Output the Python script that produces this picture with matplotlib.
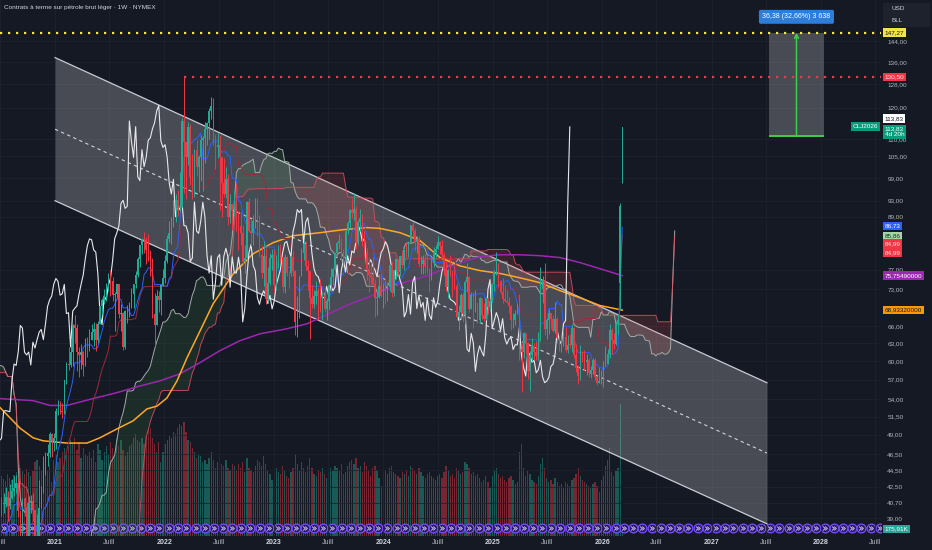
"""
Weekly WTI light crude futures (NYMEX) chart, TradingView-like dark layout:
candles, Ichimoku cloud, 100/200 SMA, descending channel, volume and a
price-range measurement box.
"""
import numpy as np
import pandas as pd
import matplotlib
matplotlib.use("Agg")
import matplotlib.pyplot as plt
import matplotlib.transforms as mtransforms
from matplotlib.patches import Rectangle
from matplotlib.ticker import FixedLocator, FuncFormatter, NullLocator

plt.rcParams["font.family"] = ["Liberation Sans", "DejaVu Sans"]

# ---------------------------------------------------------------------------
# weekly bars (Monday of the first week below), close / high / low per year
FIRST_WEEK = "2019-07-01"
C2019 = [57.51, 60.21, 55.63, 56.20, 55.66, 54.50, 54.87, 54.17, 55.10, 56.52, 54.85, 58.09, 55.91,
         52.81, 54.70, 53.78, 56.66, 56.20, 57.24, 57.72, 57.77, 55.17, 59.20, 60.07, 60.44, 61.72]
H2019 = [58.76, 60.94, 60.74, 57.05, 58.82, 54.98, 57.47, 56.30, 56.76, 57.05, 58.76, 63.38, 58.93,
         56.24, 54.96, 54.94, 56.90, 56.66, 57.88, 57.94, 58.73, 58.68, 59.85, 60.59, 61.31, 62.34]
L2019 = [55.83, 57.33, 55.22, 55.05, 53.59, 50.52, 53.75, 52.82, 53.50, 52.78, 54.56, 57.24, 55.38,
         50.99, 51.91, 52.53, 53.24, 53.53, 55.38, 55.97, 56.31, 55.00, 55.25, 58.65, 59.66, 60.07]

C2020 = [63.05, 59.04, 58.54, 54.19, 51.56, 50.32, 52.05, 53.38, 44.76, 41.28, 31.73, 22.43, 21.51,
         28.34, 22.76, 18.27, 16.94, 19.78, 24.74, 29.43, 33.25, 35.49, 39.55, 36.26, 39.75, 38.49,
         40.65, 40.55, 40.59, 41.29, 40.27, 41.22, 42.01, 42.34, 42.97, 39.77, 37.33, 41.11, 40.25,
         37.05, 40.60, 40.88, 39.85, 35.79, 37.14, 40.13, 42.15, 45.53, 46.26, 46.57, 49.10, 48.23]
H2020 = [64.09, 65.65, 59.27, 58.88, 54.31, 52.21, 52.40, 54.40, 54.15, 48.66, 42.00, 34.32, 25.24,
         29.13, 28.36, 23.34, 18.26, 20.48, 25.77, 30.16, 34.66, 35.95, 39.82, 40.44, 40.19, 40.73,
         41.63, 41.38, 41.73, 42.51, 42.02, 42.82, 43.43, 43.78, 43.83, 43.55, 39.59, 41.21, 41.36,
         40.77, 41.39, 41.53, 41.79, 39.82, 39.41, 43.28, 42.63, 46.26, 46.68, 47.74, 49.43, 49.30]
L2020 = [60.64, 58.84, 57.36, 54.06, 50.89, 49.31, 49.88, 51.68, 43.84, 40.84, 27.34, 20.06, 20.57,
         19.27, 22.04, 17.31, -40.32, 10.07, 18.72, 23.41, 29.45, 31.39, 34.80, 34.81, 35.50, 37.08,
         37.16, 39.23, 39.60, 40.26, 38.72, 39.97, 41.11, 41.45, 41.80, 39.16, 36.13, 36.58, 39.22,
         36.63, 37.33, 39.50, 38.71, 33.64, 34.92, 37.00, 40.20, 41.74, 43.92, 45.02, 46.17, 46.15]

C2021 = [48.52, 52.24, 52.36, 52.27, 52.20, 56.85, 59.47, 59.24, 61.50, 66.09, 65.61, 61.42, 60.97,
         61.45, 59.32, 63.13, 62.14, 63.58, 64.90, 65.37, 63.58, 66.32, 69.62, 70.91, 71.64, 74.05,
         75.16, 74.56, 71.81, 72.07, 73.95, 68.28, 68.44, 62.32, 68.74, 69.29, 69.72, 71.97, 73.98,
         75.88, 79.35, 82.28, 83.76, 83.57, 81.27, 80.79, 76.10, 68.15, 66.26, 71.67, 70.86, 73.79, 75.21]
H2021 = [49.28, 52.75, 53.93, 53.80, 53.39, 57.00, 59.84, 62.26, 63.81, 66.40, 67.98, 66.40, 62.27,
         62.85, 61.61, 63.78, 64.06, 65.47, 66.43, 66.69, 66.45, 66.96, 69.76, 71.17, 72.99, 74.25,
         76.40, 76.98, 75.52, 72.45, 74.11, 73.70, 70.15, 68.57, 69.03, 69.92, 70.52, 73.15, 74.06,
         76.67, 79.78, 82.48, 84.00, 85.41, 84.26, 84.97, 81.20, 79.44, 72.26, 72.87, 72.56, 74.00, 77.08]
L2021 = [46.90, 47.18, 51.77, 51.83, 51.37, 51.88, 56.37, 58.43, 59.02, 59.21, 63.03, 58.29, 57.32,
         58.71, 57.63, 59.14, 60.62, 61.56, 63.57, 62.55, 61.56, 63.02, 66.50, 68.23, 70.15, 70.60,
         72.72, 71.60, 70.76, 65.01, 71.21, 67.44, 65.15, 61.74, 62.04, 66.50, 67.58, 69.30, 69.38,
         73.18, 75.51, 77.62, 80.38, 80.51, 78.25, 78.80, 75.66, 67.40, 62.43, 68.80, 68.55, 68.00, 73.71]

C2022 = [78.90, 83.82, 85.14, 86.82, 92.31, 93.10, 91.07, 91.59, 115.68, 109.33, 104.70, 113.90, 99.27,
         98.26, 106.95, 102.07, 104.69, 109.77, 110.49, 113.23, 115.07, 118.87, 120.67, 109.56, 107.62,
         108.43, 104.79, 97.59, 94.70, 98.62, 89.01, 92.09, 90.77, 93.06, 86.87, 86.79, 85.11, 78.74,
         79.49, 92.64, 85.61, 85.05, 87.90, 92.61, 88.96, 80.08, 76.28, 79.98, 71.02, 74.29, 79.56, 80.26]
H2022 = [80.24, 84.72, 87.91, 88.84, 93.17, 94.66, 95.82, 100.54, 116.57, 130.50, 106.91, 115.40, 114.68,
         105.74, 107.24, 109.81, 105.44, 111.37, 110.94, 115.44, 115.40, 119.98, 123.68, 123.18, 111.70,
         112.08, 111.45, 104.48, 104.41, 101.88, 99.94, 94.73, 91.88, 95.75, 97.65, 90.40, 90.14, 86.90,
         82.35, 92.90, 93.64, 88.42, 89.48, 93.69, 93.74, 89.45, 82.40, 83.34, 81.60, 77.60, 80.50, 81.49]
L2022 = [74.27, 78.46, 83.05, 82.71, 86.55, 87.73, 89.17, 90.06, 91.51, 95.04, 93.53, 102.55, 97.05,
         93.41, 94.01, 99.43, 95.28, 98.20, 95.44, 103.12, 108.24, 110.16, 116.37, 108.26, 101.53,
         104.56, 90.56, 88.86, 93.92, 93.72, 87.01, 87.46, 85.73, 89.10, 85.54, 81.20, 82.31, 78.07,
         76.25, 79.00, 85.27, 82.09, 82.36, 86.35, 84.33, 79.76, 75.27, 73.60, 70.08, 70.30, 73.91, 76.88]

C2023 = [73.77, 79.86, 81.64, 79.68, 73.39, 79.72, 76.34, 76.32, 79.68, 76.68, 66.74, 69.26, 75.67,
         80.70, 82.52, 77.87, 76.78, 71.34, 70.04, 71.69, 72.67, 71.74, 70.17, 71.78, 69.16, 70.64,
         73.86, 75.42, 77.07, 80.58, 82.82, 83.19, 81.25, 79.83, 85.55, 87.51, 90.77, 90.03, 90.79,
         82.79, 87.69, 88.75, 85.54, 80.51, 77.17, 75.89, 75.54, 74.07, 71.23, 71.43, 73.56, 71.65]
H2023 = [81.50, 80.12, 82.38, 82.66, 79.65, 80.38, 80.03, 76.79, 80.00, 80.94, 76.99, 71.67, 75.72,
         81.81, 83.53, 83.26, 79.06, 76.57, 73.84, 72.82, 74.73, 73.20, 75.06, 72.50, 73.19, 71.21,
         74.01, 77.32, 77.34, 80.85, 83.00, 84.89, 84.06, 81.45, 85.86, 88.08, 90.90, 93.74, 95.03,
         91.56, 88.22, 90.79, 89.60, 84.71, 81.64, 79.67, 78.63, 79.70, 74.99, 72.68, 76.18, 76.04]
L2023 = [72.46, 72.74, 77.32, 78.69, 72.53, 72.25, 75.68, 73.18, 75.68, 75.67, 64.36, 64.12, 67.41,
         79.00, 79.07, 76.86, 72.81, 63.64, 69.42, 69.39, 70.14, 67.03, 68.49, 67.05, 68.59, 67.05,
         69.00, 72.71, 73.87, 76.75, 79.47, 81.41, 78.77, 77.58, 78.96, 84.96, 86.34, 88.66, 88.11,
         81.50, 82.29, 85.55, 82.10, 79.88, 74.76, 72.37, 74.10, 73.75, 67.71, 68.06, 71.21, 71.41]

C2024 = [73.81, 72.68, 73.41, 78.01, 72.28, 76.84, 79.19, 76.49, 79.97, 78.01, 81.04, 80.63, 83.17,
         86.91, 85.66, 83.14, 83.85, 78.11, 78.26, 79.12, 77.72, 76.99, 75.53, 78.45, 80.73, 81.54,
         83.16, 82.21, 80.13, 77.16, 73.52, 76.84, 76.65, 74.83, 73.55, 67.67, 68.65, 71.92, 68.18,
         74.38, 75.56, 69.22, 71.78, 69.49, 70.38, 67.02, 71.24, 68.00, 67.20, 71.29, 69.46, 70.60]
H2024 = [74.24, 75.27, 74.43, 78.23, 78.56, 77.01, 79.29, 79.19, 80.03, 80.85, 81.66, 83.12, 83.24,
         87.12, 87.67, 86.28, 84.46, 84.40, 79.93, 80.11, 80.33, 80.23, 77.30, 79.41, 81.84, 82.30,
         84.52, 83.39, 83.58, 80.83, 78.78, 77.18, 80.20, 75.86, 77.69, 74.30, 69.97, 72.27, 72.41,
         74.85, 78.46, 75.76, 72.49, 72.34, 72.85, 69.18, 71.43, 71.05, 70.33, 71.53, 71.31, 71.09]
L2024 = [69.28, 70.13, 70.62, 72.56, 71.41, 71.69, 75.11, 75.88, 75.73, 77.31, 76.94, 79.72, 79.75,
         82.89, 84.10, 80.95, 80.70, 77.87, 76.04, 76.04, 76.06, 76.36, 72.48, 74.89, 77.52, 79.76,
         81.66, 80.37, 79.76, 75.88, 72.71, 71.17, 75.68, 71.46, 73.11, 67.12, 65.27, 67.28, 66.68,
         66.43, 72.54, 68.51, 69.55, 65.72, 68.49, 66.59, 66.53, 67.35, 66.89, 67.05, 68.22, 68.68]

C2025 = [73.96, 76.57, 77.88, 74.66, 72.53, 71.00, 70.74, 70.40, 69.76, 67.04, 67.18, 68.28, 69.36,
         61.99, 61.50, 64.68, 63.02, 58.29, 61.02, 62.49, 61.53, 60.79, 64.58, 72.98, 74.93, 65.52,
         67.00, 68.45, 67.34, 65.16, 67.33, 63.88, 62.80, 63.66, 64.01, 61.87, 62.69, 62.68, 65.72,
         60.88, 58.90, 57.54, 61.50, 60.98, 59.75, 60.09, 58.06, 58.55, 60.08, 57.44, 56.52, 56.74]
H2025 = [74.17, 77.00, 80.77, 78.36, 74.94, 75.18, 73.93, 72.86, 71.54, 69.97, 68.40, 68.94, 70.21,
         72.00, 62.74, 64.87, 64.40, 63.20, 61.61, 63.90, 63.05, 63.36, 64.92, 77.62, 75.74, 78.40,
         67.43, 69.05, 68.42, 68.06, 70.54, 67.60, 64.26, 64.03, 65.10, 65.75, 64.35, 64.58, 66.42,
         65.85, 62.90, 59.25, 62.59, 61.65, 61.75, 61.08, 60.53, 59.20, 60.40, 60.40, 57.60, 59.00]
L2025 = [70.39, 72.66, 75.98, 73.37, 71.96, 70.38, 70.51, 70.30, 68.44, 65.22, 65.68, 66.22, 68.17,
         60.12, 55.12, 60.39, 61.08, 57.07, 55.30, 60.00, 60.16, 60.05, 60.20, 63.30, 70.35, 64.38,
         63.72, 64.53, 65.46, 64.84, 64.83, 62.97, 61.64, 61.54, 62.50, 61.45, 61.22, 62.10, 61.50,
         60.40, 58.23, 56.35, 56.90, 59.73, 58.58, 57.70, 57.35, 57.20, 57.85, 56.90, 56.15, 56.40]

C2026 = [57.32, 59.10, 59.44, 61.10, 65.20, 63.50, 62.80, 66.40, 67.00, 91.70, 113.83]
H2026 = [58.50, 60.00, 62.40, 61.90, 66.40, 65.60, 64.80, 66.90, 68.20, 92.50, 113.83]
L2026 = [56.30, 55.80, 59.80, 59.63, 60.50, 61.20, 61.90, 62.60, 64.50, 68.90, 97.70]
LAST_OPENS = [74.30, 97.70]          # the last two bars open on a gap

# weekly volume (K contracts), from the week of 2020-06-29 on
V2020 = [1650, 1500, 1420, 1380, 1560, 1450, 1390, 1520, 1600, 1780, 1700, 1620, 1550,
         1680, 1600, 1490, 1620, 1850, 1900, 1760, 1650, 1820, 1700, 1640, 1780, 1350]
V2021 = [1900, 2050, 1850, 1950, 2100, 2200, 2050, 2250, 2400, 2300, 2450, 2150, 2350,
         1950, 2200, 2050, 2000, 2100, 1950, 2150, 1850, 2300, 2150, 1900, 2100, 2250,
         2050, 2350, 2200, 2000, 2450, 2250, 2400, 2150, 2000, 2100, 2250, 2300, 2450,
         2550, 2400, 2350, 2450, 2300, 2500, 2650, 2700, 2450, 2300, 2100, 2350, 1850, 2100]
V2022 = [2300, 2400, 2500, 2450, 2600, 2550, 2700, 2800, 2750, 2850, 2600, 2400, 2350,
         2200, 2100, 1950, 2050, 2000, 1850, 1900, 1800, 1950, 2100, 1900, 1700, 1850,
         2000, 1800, 1750, 1900, 1700, 1650, 1800, 1750, 1650, 1800, 1700, 1850, 1600,
         1950, 1700, 1650, 1600, 1750, 1900, 1850, 1750, 2000, 1800, 1650, 1550, 1400]
V2023 = [1650, 1700, 1600, 1550, 1750, 1650, 1500, 1450, 1600, 1700, 2050, 1800, 1650,
         1850, 1700, 1600, 1750, 1950, 1700, 1550, 1500, 1650, 1600, 1700, 1550, 1450,
         1600, 1700, 1650, 1750, 1700, 1650, 1800, 1550, 1600, 1750, 1850, 1900, 1800,
         1950, 1700, 1750, 1600, 1850, 1750, 1650, 1500, 1700, 1750, 1650, 1450, 1250]
V2024 = [1600, 1650, 1550, 1700, 1750, 1600, 1550, 1500, 1450, 1600, 1550, 1650, 1500,
         1750, 1700, 1650, 1550, 1700, 1600, 1500, 1450, 1550, 1600, 1500, 1450, 1400,
         1500, 1550, 1450, 1600, 1750, 1650, 1500, 1550, 1450, 1700, 1650, 1550, 1600,
         1850, 1800, 1700, 1550, 1600, 1500, 1550, 1450, 1350, 1400, 1500, 1350, 1200]
V2025 = [1500, 1650, 1700, 1550, 1450, 1500, 1400, 1350, 1450, 1500, 1400, 1300, 1350,
         2100, 2300, 1700, 1500, 1650, 1550, 1400, 1350, 1300, 1500, 1800, 1950, 1700,
         1450, 1350, 1400, 1300, 1450, 1350, 1250, 1300, 1200, 1350, 1300, 1250, 1400,
         1450, 1550, 1700, 1500, 1400, 1350, 1300, 1250, 1200, 1300, 1350, 1250, 1100]
V2026 = [1400, 1500, 1750, 1900, 2200, 1600, 1500, 1650, 1700, 3300, 176]

# 100-week SMA (orange) and 200-week SMA (purple)
SMA100_X = [2020.497, 2020.680, 2020.799, 2020.890, 2021.110, 2021.292, 2021.411, 2021.567, 2021.713,
            2021.841, 2021.932, 2022.023, 2022.115, 2022.206, 2022.325, 2022.444, 2022.627, 2022.809,
            2022.992, 2023.175, 2023.422, 2023.632, 2023.851, 2023.970, 2024.153, 2024.335, 2024.518,
            2024.701, 2024.884, 2025.067, 2025.249, 2025.432, 2025.615, 2025.798, 2025.980, 2026.184]
SMA100_Y = [52.8, 49.9, 48.6, 48.2, 47.9, 47.9, 48.6, 49.8, 50.9, 52.6, 53.0, 54.2, 56.8, 60.5, 65.1,
            70.1, 76.1, 80.4, 82.9, 84.5, 85.2, 85.9, 86.4, 86.2, 85.2, 83.4, 79.6, 77.8, 76.8, 76.2,
            75.3, 74.3, 72.7, 71.3, 69.8, 68.93]
SMA200_X = [2020.497, 2020.799, 2020.954, 2021.110, 2021.347, 2021.567, 2021.777, 2021.960, 2022.142,
            2022.325, 2022.508, 2022.691, 2022.873, 2023.120, 2023.303, 2023.422, 2023.696, 2023.851,
            2024.153, 2024.399, 2024.582, 2024.765, 2024.884, 2025.067, 2025.249, 2025.432, 2025.615,
            2025.798, 2025.980, 2026.184]
SMA200_Y = [54.1, 53.8, 53.1, 53.1, 54.1, 55.0, 56.0, 56.8, 57.9, 59.7, 61.7, 63.4, 64.6, 65.5, 66.4,
            67.5, 70.1, 71.3, 74.1, 75.7, 77.4, 78.9, 79.8, 80.2, 80.2, 80.0, 79.6, 78.5, 77.2, 75.75]

# drawings
CHANNEL_X = [2021.0, 2027.506]
CHANNEL_TOP = [137.6, 56.5]
CHANNEL_MID = [113.1, 46.6]
CHANNEL_BOT = [93.0, 38.4]
ATH = 147.27
MEASURE_X = [2027.523, 2028.028]
MEASURE_Y = [110.89, 147.27]
MEASURE_TEXT = "36,38 (32,66%) 3 638"

TAG_PRICES = [147.27, 130.50, 113.83, 113.83, 86.73, 85.86, 84.99, 84.99, 75.7549, 68.9332]
TAG_TEXTS = ["147,27", "130,50", "113,83", "113,83\n4d 20h", "86,73", "85,86", "84,99", "84,99",
             "75,75490000", "68,93320000"]
LAST_VOL_TEXT = "175,91K"
Y_TICKS = [39, 40.7, 42.5, 44.5, 46.5, 49, 51.5, 54, 57, 60, 63, 66, 73, 77, 89, 93, 99, 105,
           110, 120, 128, 136, 144]

# ---------------------------------------------------------------------------
BG = "#151924"
GRID = "#1e2230"
TXT = "#b2b5be"
UP, DOWN = "#22ab94", "#f23645"
TAG_BG = ["#f2e34a", "#f23645", "#ffffff", "#0a9a7c", "#2962ff", "#a5d6a7", "#f23645", "#f23645",
          "#9c27b0", "#ff9800"]
TAG_FG = ["#131722", "#ffe0e2", "#131722", "#ffffff", "#ffffff", "#1b3320", "#ffe0e2", "#ffe0e2",
          "#ffffff", "#131722"]
TAG_DY = [0, 0, -8.5, 5, 0, 6, 10, 19, 0, 0]       # px, collision shifts
XLIM = (2020.4974, 2028.548)
YLIM = (37.14, 161.1)
VOL_TOP = 13400
SHIFT = 25


def dec_year(idx):
    idx = pd.DatetimeIndex(idx)
    days = np.where(idx.is_leap_year, 366.0, 365.0)
    return np.asarray(idx.year + (idx.dayofyear - 1) / days, dtype=float)


def comma(v, _=None):
    return f"{v:.2f}".replace(".", ",")


close = np.array(C2019 + C2020 + C2021 + C2022 + C2023 + C2024 + C2025 + C2026)
high = np.array(H2019 + H2020 + H2021 + H2022 + H2023 + H2024 + H2025 + H2026)
low = np.array(L2019 + L2020 + L2021 + L2022 + L2023 + L2024 + L2025 + L2026)
volume = np.array(V2020 + V2021 + V2022 + V2023 + V2024 + V2025 + V2026, dtype=float)
n = len(close)
assert len(high) == n and len(low) == n, (n, len(high), len(low))

xs_all = dec_year(pd.date_range(FIRST_WEEK, periods=n + SHIFT + 1, freq="7D"))
xs = xs_all[:n]
opens = np.r_[close[0], close[:-1]]
opens[-len(LAST_OPENS):] = LAST_OPENS
high = np.maximum(high, np.maximum(opens, close))
low = np.minimum(low, np.minimum(opens, close))

# Ichimoku (9, 26, 52, displacement 26)
hs, ls = pd.Series(high), pd.Series(low)


def donchian_mid(k):
    return ((hs.rolling(k, min_periods=1).max() + ls.rolling(k, min_periods=1).min()) / 2).to_numpy()


def pos(v):
    return np.where(v > 0, v, np.nan)


tenkan, kijun = donchian_mid(9), donchian_mid(26)
span_a, span_b = pos((tenkan + kijun) / 2), pos(donchian_mid(52))
x_lead = xs_all[SHIFT:SHIFT + n]

# ---------------------------------------------------------------------------
fig = plt.figure(figsize=(9.32, 5.5), dpi=100, facecolor=BG)
rect = [0, 14 / 550, 881 / 932, 536 / 550]
axv = fig.add_axes(rect)
axv.set_axis_off()
ax = fig.add_axes(rect, facecolor="none")

# volume pane
vx = xs[n - len(volume):]
vup = close[n - len(volume):] >= opens[n - len(volume):]
axv.bar(vx, volume, width=0.6 * 7 / 365.25, color=np.where(vup, UP, DOWN), alpha=0.45, lw=0)
months = pd.date_range("2020-07-01", "2028-07-01", freq="MS") + pd.Timedelta(days=14)
mx = dec_year(months)
trv = mtransforms.blended_transform_factory(axv.transData, axv.transAxes)
axv.scatter(mx, np.full(len(mx), 0.015), s=40, marker="o", facecolor="#251c55",
            edgecolor="#7c4dff", lw=0.9, transform=trv, zorder=4, clip_on=True)
axv.scatter(mx, np.full(len(mx), 0.015), s=10, marker="$»$", color="#c7b8ff",
            lw=0.2, transform=trv, zorder=5)
axv.set_xlim(*XLIM)
axv.set_ylim(0, VOL_TOP)

# price pane
ax.set_yscale("log")
ax.grid(True, color=GRID, lw=0.6, zorder=0)
ax.set_axisbelow(True)

ax.fill_between(CHANNEL_X, CHANNEL_BOT, CHANNEL_TOP, color="white", alpha=0.22, lw=0, zorder=1)
ax.plot(CHANNEL_X, CHANNEL_TOP, color="#c9ccd4", lw=0.9, zorder=1.2)
ax.plot(CHANNEL_X, CHANNEL_BOT, color="#c9ccd4", lw=0.9, zorder=1.2)
ax.plot(CHANNEL_X, CHANNEL_MID, color="#d1d4dc", lw=0.8, ls=(0, (3, 3)), zorder=1.2)

ax.fill_between(x_lead, span_a, span_b, where=span_a >= span_b, interpolate=True,
                color="#4caf50", alpha=0.13, lw=0, zorder=1.5)
ax.fill_between(x_lead, span_a, span_b, where=span_a < span_b, interpolate=True,
                color="#ef5350", alpha=0.16, lw=0, zorder=1.5)
ax.plot(x_lead, span_a, color="#a3aba6", lw=0.7, zorder=2)
ax.plot(x_lead, span_b, color="#d9505c", lw=0.7, alpha=0.85, zorder=2)

ax.plot(SMA200_X, SMA200_Y, color="#9c27b0", lw=1.1, zorder=2.4)
ax.plot(SMA100_X, SMA100_Y, color="#ffa726", lw=1.1, zorder=2.5)
ax.plot(xs, pos(kijun), color="#9c2a3a", lw=0.7, zorder=2.6)
ax.plot(xs, pos(tenkan), color="#2962ff", lw=0.7, zorder=2.6)
ax.plot(xs[:n - SHIFT], close[SHIFT:], color="#e8e8ec", lw=0.8, zorder=2.7)

vis = xs >= XLIM[0] - 0.02
cx, co, cc, ch, cl = xs[vis], opens[vis], close[vis], high[vis], low[vis]
cols = np.where(cc >= co, UP, DOWN)
ax.vlines(cx, cl, ch, colors=cols, lw=0.7, zorder=3)
ax.bar(cx, np.maximum(np.abs(cc - co), 0.08), bottom=np.minimum(co, cc),
       width=0.72 * 7 / 365.25, color=cols, lw=0, zorder=3.1)

# horizontal levels
dots = (0, (1, 2.6))
ax.axhline(ATH, color="#f5e642", lw=1.6, ls=dots, zorder=3.5)
top_i = int(np.argmax(high))
ax.hlines(high[top_i], xs[top_i], XLIM[1], color="#f23645", lw=1.6, ls=dots, zorder=3.5)

# measurement box
ax.add_patch(Rectangle((MEASURE_X[0], MEASURE_Y[0]), MEASURE_X[1] - MEASURE_X[0],
                       MEASURE_Y[1] - MEASURE_Y[0], fc="white", alpha=0.22, lw=0, zorder=3))
xm = sum(MEASURE_X) / 2
ax.hlines(MEASURE_Y[0], MEASURE_X[0], MEASURE_X[1], color="#3ecf4a", lw=1.4, zorder=3.6)
ax.annotate("", xy=(xm, MEASURE_Y[1]), xytext=(xm, MEASURE_Y[0]),
            arrowprops=dict(arrowstyle="->", color="#3ecf4a", lw=1.1,
                            mutation_scale=7, shrinkA=0, shrinkB=0), zorder=3.6)
ax.annotate(MEASURE_TEXT, xy=(xm, MEASURE_Y[1]), xytext=(0, 11.5), textcoords="offset points",
            ha="center", va="center", fontsize=5, color="white", zorder=6,
            bbox=dict(boxstyle="round,pad=0.5,rounding_size=0.25", fc="#2d7ddb", ec="none"))

# axes cosmetics
ax.set_xlim(*XLIM)
ax.set_ylim(*YLIM)
for s in ax.spines.values():
    s.set_visible(False)
ax.yaxis.tick_right()
ax.yaxis.set_major_locator(FixedLocator(Y_TICKS))
ax.yaxis.set_minor_locator(NullLocator())
ax.yaxis.set_major_formatter(FuncFormatter(comma))
ax.yaxis.set_minor_formatter(FuncFormatter(lambda v, p: ""))
ax.tick_params(axis="y", length=0, pad=4.5, labelsize=4.6, labelcolor=TXT)

xt = pd.date_range("2020-07-01", "2028-07-01", freq="6MS")
ax.set_xticks(dec_year(xt))
ax.set_xticklabels([str(d.year) if d.month == 1 else "Juill" for d in xt])
ax.tick_params(axis="x", length=0, pad=2.5, labelsize=5, labelcolor=TXT)
for lbl in ax.get_xticklabels():
    if lbl.get_text() != "Juill":
        lbl.set_fontweight("bold")
        lbl.set_color("#d1d4dc")

# price scale tags
tr_tag = mtransforms.blended_transform_factory(ax.transAxes, ax.transData)
for p, t, bg, fg, dy in zip(TAG_PRICES, TAG_TEXTS, TAG_BG, TAG_FG, TAG_DY):
    ax.annotate(t, xy=(1.0, p), xycoords=tr_tag, xytext=(2.6, -dy * 0.72),
                textcoords="offset points", ha="left", va="center", fontsize=4.6,
                color=fg, linespacing=1.25, annotation_clip=False, zorder=10,
                bbox=dict(boxstyle="square,pad=0.28", fc=bg, ec="none"))
ax.annotate("CLJ2026", xy=(1.0, close[-1]), xycoords=tr_tag, xytext=(-2, 0),
            textcoords="offset points", ha="right", va="center", fontsize=4.6,
            color="white", annotation_clip=False, zorder=10,
            bbox=dict(boxstyle="square,pad=0.3", fc="#0a9a7c", ec="none"))
tr_vol = mtransforms.blended_transform_factory(ax.transAxes, axv.transData)
ax.annotate(LAST_VOL_TEXT, xy=(1.0, volume[-1]), xycoords=tr_vol, xytext=(2.6, 0),
            textcoords="offset points", ha="left", va="center", fontsize=4.6,
            color="white", annotation_clip=False, zorder=10,
            bbox=dict(boxstyle="square,pad=0.28", fc="#26a69a", ec="none"))

# header and currency box
fig.text(4 / 932, 1 - 8 / 550, "Contrats à terme sur pétrole brut léger · 1W · NYMEX",
         fontsize=4.6, color="#d1d4dc", ha="left", va="center")
fig.add_artist(Rectangle((883 / 932, 1 - 27 / 550), 47 / 932, 24 / 550,
                         transform=fig.transFigure, fc="#1e222d", ec="none"))
fig.text(891 / 932, 1 - 8.5 / 550, "USD", fontsize=4.6, color="#d1d4dc", va="center")
fig.text(891 / 932, 1 - 21 / 550, "BLL", fontsize=4.6, color="#d1d4dc", va="center")

fig.savefig("out.png", dpi=100, facecolor=BG)
